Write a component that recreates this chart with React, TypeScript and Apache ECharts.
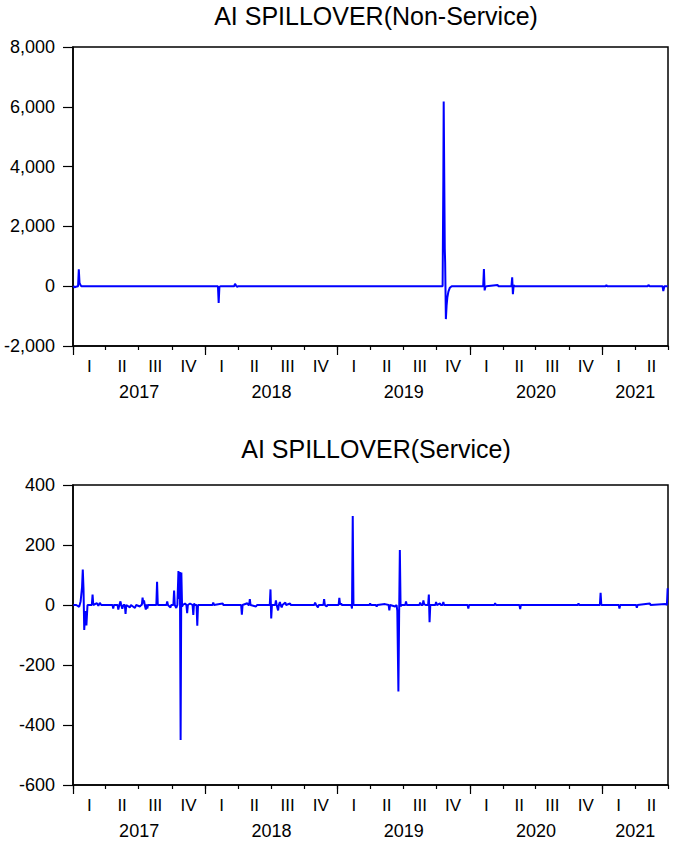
import React, { useEffect, useRef } from "react";
import * as echarts from "echarts";

// ---- Titles ----
const titleNonService = "AI SPILLOVER(Non-Service)";
const titleService = "AI SPILLOVER(Service)";

// ---- Axis labels ----
const quarterLabels = ["I", "II", "III", "IV"];
const yearLabels = ["2017", "2018", "2019", "2020", "2021"];
const axisStart = "2017-01-01";
const axisEnd = "2021-07-01";

// y-axis ranges
const nsYMin = -2000;
const nsYMax = 8000;
const nsYStep = 2000;
const sYMin = -600;
const sYMax = 400;
const sYStep = 200;

// ---- Series: AI SPILLOVER (Non-Service) ----
const nonServiceData: [string, number][] = [
  ["2017-01-02", 10],
  ["2017-01-05", -40],
  ["2017-01-09", -20],
  ["2017-01-15", 0],
  ["2017-01-17", 565],
  ["2017-01-19", 110],
  ["2017-01-21", 60],
  ["2017-01-24", 0],
  ["2018-02-05", 0],
  ["2018-02-07", -560],
  ["2018-02-09", -30],
  ["2018-02-12", 0],
  ["2018-03-22", 0],
  ["2018-03-24", 80],
  ["2018-03-27", 20],
  ["2018-03-30", -20],
  ["2018-04-03", 0],
  ["2019-10-18", 0],
  ["2019-10-20", 3550],
  ["2019-10-21", 6180],
  ["2019-10-24", 1250],
  ["2019-10-25", 800],
  ["2019-10-27", -1100],
  ["2019-10-29", -650],
  ["2019-10-31", -380],
  ["2019-11-03", -180],
  ["2019-11-07", -50],
  ["2019-11-12", 0],
  ["2020-02-07", 0],
  ["2020-02-09", 570],
  ["2020-02-11", -140],
  ["2020-02-13", -30],
  ["2020-02-16", 0],
  ["2020-03-18", 40],
  ["2020-03-20", 0],
  ["2020-04-25", 0],
  ["2020-04-27", 300],
  ["2020-04-29", -270],
  ["2020-05-01", 30],
  ["2020-05-04", 0],
  ["2021-01-10", 0],
  ["2021-01-12", 35],
  ["2021-01-14", 0],
  ["2021-05-06", 0],
  ["2021-05-08", 45],
  ["2021-05-11", 0],
  ["2021-06-16", 0],
  ["2021-06-18", -160],
  ["2021-06-21", 0],
  ["2021-06-30", 0],
];

// ---- Series: AI SPILLOVER (Service) ----
const serviceData: [string, number][] = [
  ["2017-01-02", 0],
  ["2017-01-10", 0],
  ["2017-01-18", -6],
  ["2017-01-22", 12],
  ["2017-01-26", 60],
  ["2017-01-28", 118],
  ["2017-01-30", 55],
  ["2017-02-01", -83],
  ["2017-02-04", -20],
  ["2017-02-07", -68],
  ["2017-02-10", 0],
  ["2017-02-22", 0],
  ["2017-02-24", 35],
  ["2017-02-26", 0],
  ["2017-03-08", 6],
  ["2017-03-12", -3],
  ["2017-03-16", 7],
  ["2017-03-20", 0],
  ["2017-04-20", 0],
  ["2017-04-22", -12],
  ["2017-04-24", 0],
  ["2017-05-04", 0],
  ["2017-05-06", -15],
  ["2017-05-09", 0],
  ["2017-05-12", 12],
  ["2017-05-14", 0],
  ["2017-05-17", -12],
  ["2017-05-20", 0],
  ["2017-05-24", 0],
  ["2017-05-26", -30],
  ["2017-05-28", 0],
  ["2017-06-07", -8],
  ["2017-06-10", 0],
  ["2017-06-21", -10],
  ["2017-06-24", 0],
  ["2017-07-05", -5],
  ["2017-07-08", 0],
  ["2017-07-10", 0],
  ["2017-07-12", 25],
  ["2017-07-14", 5],
  ["2017-07-16", 15],
  ["2017-07-18", 0],
  ["2017-07-21", -15],
  ["2017-07-23", 2],
  ["2017-07-25", -12],
  ["2017-07-27", 0],
  ["2017-08-19", 0],
  ["2017-08-21", 77],
  ["2017-08-23", 0],
  ["2017-09-16", 0],
  ["2017-09-18", 12],
  ["2017-09-20", 0],
  ["2017-09-27", -8],
  ["2017-09-29", 0],
  ["2017-10-05", 0],
  ["2017-10-07", 48],
  ["2017-10-09", 0],
  ["2017-10-13", -10],
  ["2017-10-16", 0],
  ["2017-10-17", 0],
  ["2017-10-19", 113],
  ["2017-10-21", 20],
  ["2017-10-23", 110],
  ["2017-10-25", -450],
  ["2017-10-27", 108],
  ["2017-10-29", -5],
  ["2017-10-31", 0],
  ["2017-11-06", 5],
  ["2017-11-10", 0],
  ["2017-11-12", -27],
  ["2017-11-14", 0],
  ["2017-11-20", 5],
  ["2017-11-27", 0],
  ["2017-11-29", -33],
  ["2017-12-01", 5],
  ["2017-12-04", 0],
  ["2017-12-08", 0],
  ["2017-12-10", -69],
  ["2017-12-12", 0],
  ["2018-01-21", 0],
  ["2018-01-23", 8],
  ["2018-01-25", 0],
  ["2018-02-18", 5],
  ["2018-02-20", 0],
  ["2018-04-10", 0],
  ["2018-04-12", -32],
  ["2018-04-14", 0],
  ["2018-04-27", 6],
  ["2018-04-30", 0],
  ["2018-05-02", 0],
  ["2018-05-04", 20],
  ["2018-05-06", 0],
  ["2018-05-21", -5],
  ["2018-05-24", 0],
  ["2018-06-28", 0],
  ["2018-06-30", 52],
  ["2018-07-02", -45],
  ["2018-07-04", 0],
  ["2018-07-13", 0],
  ["2018-07-15", 15],
  ["2018-07-17", 0],
  ["2018-07-21", -18],
  ["2018-07-23", 0],
  ["2018-07-26", 10],
  ["2018-07-28", 0],
  ["2018-07-31", -8],
  ["2018-08-02", 0],
  ["2018-08-10", 8],
  ["2018-08-12", 0],
  ["2018-08-23", 5],
  ["2018-08-25", 0],
  ["2018-10-29", 0],
  ["2018-10-31", 8],
  ["2018-11-03", 0],
  ["2018-11-08", -8],
  ["2018-11-10", 0],
  ["2018-11-23", 0],
  ["2018-11-25", 20],
  ["2018-11-27", 0],
  ["2018-12-02", -5],
  ["2018-12-04", 0],
  ["2019-01-04", 0],
  ["2019-01-06", 24],
  ["2019-01-08", 2],
  ["2019-01-11", 5],
  ["2019-01-13", 0],
  ["2019-02-08", 0],
  ["2019-02-10", -12],
  ["2019-02-12", 297],
  ["2019-02-14", 0],
  ["2019-03-30", 0],
  ["2019-04-01", 5],
  ["2019-04-03", 0],
  ["2019-04-17", 0],
  ["2019-04-19", -5],
  ["2019-04-21", 0],
  ["2019-05-12", 3],
  ["2019-05-22", 0],
  ["2019-05-24", -18],
  ["2019-05-26", 0],
  ["2019-06-09", -5],
  ["2019-06-13", 0],
  ["2019-06-15", -20],
  ["2019-06-18", -288],
  ["2019-06-20", -35],
  ["2019-06-22", 183],
  ["2019-06-24", -5],
  ["2019-06-26", 0],
  ["2019-07-07", 0],
  ["2019-07-09", 12],
  ["2019-07-11", 0],
  ["2019-08-15", 0],
  ["2019-08-17", 8],
  ["2019-08-20", 0],
  ["2019-08-24", 0],
  ["2019-08-26", 15],
  ["2019-08-28", 3],
  ["2019-09-01", 0],
  ["2019-09-08", 0],
  ["2019-09-10", 35],
  ["2019-09-12", -57],
  ["2019-09-14", 0],
  ["2019-09-28", 0],
  ["2019-09-30", 10],
  ["2019-10-02", 0],
  ["2019-10-11", 5],
  ["2019-10-13", 0],
  ["2019-10-18", 0],
  ["2019-10-20", 10],
  ["2019-10-22", 0],
  ["2019-12-26", 0],
  ["2019-12-28", -12],
  ["2019-12-30", 0],
  ["2020-03-09", 0],
  ["2020-03-11", 6],
  ["2020-03-13", 0],
  ["2020-05-17", 0],
  ["2020-05-19", -14],
  ["2020-05-21", 0],
  ["2020-10-25", 0],
  ["2020-10-27", 5],
  ["2020-10-29", 0],
  ["2020-12-25", 0],
  ["2020-12-27", 41],
  ["2020-12-29", 0],
  ["2021-02-15", 0],
  ["2021-02-17", -12],
  ["2021-02-19", 0],
  ["2021-04-04", 0],
  ["2021-04-06", -9],
  ["2021-04-08", 0],
  ["2021-05-12", 5],
  ["2021-05-14", 0],
  ["2021-06-24", 3],
  ["2021-06-28", 0],
  ["2021-06-30", 56],
];

const FONT = "'Liberation Sans', Arial, Helvetica, sans-serif";
const LINE_COLOR = "#0000ff";

const ts = (d: string) => Date.parse(d + "T00:00:00Z");

function buildTicks() {
  const startYear = new Date(ts(axisStart)).getUTCFullYear();
  const end = ts(axisEnd);
  const quarterStarts: number[] = [];
  const quarterMids: number[] = [];
  const yearStarts: number[] = [];
  const yearMids: number[] = [];
  for (let y = startYear; ; y++) {
    const ys = Date.UTC(y, 0, 1);
    if (ys >= end) break;
    yearStarts.push(ys);
    const ye = Math.min(Date.UTC(y + 1, 0, 1), end);
    yearMids.push((ys + ye) / 2);
    for (let q = 0; q < 4; q++) {
      const qs = Date.UTC(y, q * 3, 1);
      const qe = Date.UTC(y, q * 3 + 3, 1);
      if (qs <= end) quarterStarts.push(qs);
      if (qe <= end) quarterMids.push((qs + qe) / 2);
    }
  }
  return { quarterStarts, quarterMids, yearStarts, yearMids };
}

export default function App() {
  const ref = useRef<HTMLDivElement>(null);

  useEffect(() => {
    if (!ref.current) return;
    const chart = echarts.init(ref.current, undefined, { renderer: "svg" });
    const { quarterStarts, quarterMids, yearStarts, yearMids } = buildTicks();
    const xMin = ts(axisStart);
    const xMax = ts(axisEnd);

    const labelStyle = { color: "#000", fontFamily: FONT, fontSize: 17 };

    const quarterAxis = (gridIndex: number) => ({
      gridIndex,
      type: "value",
      position: "bottom",
      min: xMin,
      max: xMax,
      axisLine: { show: true, onZero: false, lineStyle: { color: "#000", width: 1.5 } },
      axisTick: {
        show: true,
        customValues: quarterStarts,
        length: 4,
        lineStyle: { color: "#000", width: 1.2 },
      },
      axisLabel: {
        ...labelStyle,
        customValues: quarterMids,
        margin: 20,
        verticalAlign: "middle",
        formatter: (v: number) => quarterLabels[Math.floor(new Date(v).getUTCMonth() / 3)],
      },
      splitLine: { show: false },
    });

    const yearAxis = (gridIndex: number) => ({
      gridIndex,
      type: "value",
      position: "bottom",
      offset: 0,
      min: xMin,
      max: xMax,
      axisLine: { show: false, onZero: false },
      axisTick: {
        show: true,
        customValues: yearStarts,
        length: 9,
        lineStyle: { color: "#000", width: 1.2 },
      },
      axisLabel: {
        ...labelStyle,
        fontSize: 18,
        customValues: yearMids,
        margin: 46,
        verticalAlign: "middle",
        formatter: (v: number) => {
          const y = String(new Date(v).getUTCFullYear());
          return yearLabels.indexOf(y) >= 0 ? y : "";
        },
      },
      splitLine: { show: false },
    });

    const valueAxis = (gridIndex: number, min: number, max: number, interval: number) => ({
      gridIndex,
      type: "value",
      min,
      max,
      interval,
      axisLine: { show: true, onZero: false, lineStyle: { color: "#000", width: 1.5 } },
      axisTick: { show: true, length: 10, lineStyle: { color: "#000", width: 1.2 } },
      axisLabel: {
        ...labelStyle,
        fontSize: 18,
        margin: 18,
        formatter: (v: number) => v.toLocaleString("en-US"),
      },
      splitLine: { show: false },
    });

    const lineSeries = (idx: number, data: [string, number][]) => ({
      type: "line",
      xAxisIndex: idx * 2,
      yAxisIndex: idx,
      showSymbol: false,
      symbol: "none",
      lineStyle: { color: LINE_COLOR, width: 2 },
      itemStyle: { color: LINE_COLOR },
      data: data.map(([d, v]) => [ts(d), v]),
    });

    const titleStyle = { fontFamily: FONT, fontSize: 25, fontWeight: "normal", color: "#000" };

    chart.setOption({
      animation: false,
      backgroundColor: "#fff",
      title: [
        { text: titleNonService, left: 371, top: -2, textAlign: "center", textStyle: titleStyle },
        { text: titleService, left: 371, top: 431, textAlign: "center", textStyle: titleStyle },
      ],
      grid: [
        { left: 73, top: 47, width: 595, height: 299, show: true, borderColor: "#000", borderWidth: 1.5 },
        { left: 73, top: 485, width: 595, height: 300, show: true, borderColor: "#000", borderWidth: 1.5 },
      ],
      xAxis: [quarterAxis(0), yearAxis(0), quarterAxis(1), yearAxis(1)],
      yAxis: [valueAxis(0, nsYMin, nsYMax, nsYStep), valueAxis(1, sYMin, sYMax, sYStep)],
      series: [lineSeries(0, nonServiceData), lineSeries(1, serviceData)],
    } as any);

    return () => chart.dispose();
  }, []);

  return (
    <div
      ref={ref}
      style={{ position: "fixed", left: 0, top: 0, width: 685, height: 853 }}
    />
  );
}
